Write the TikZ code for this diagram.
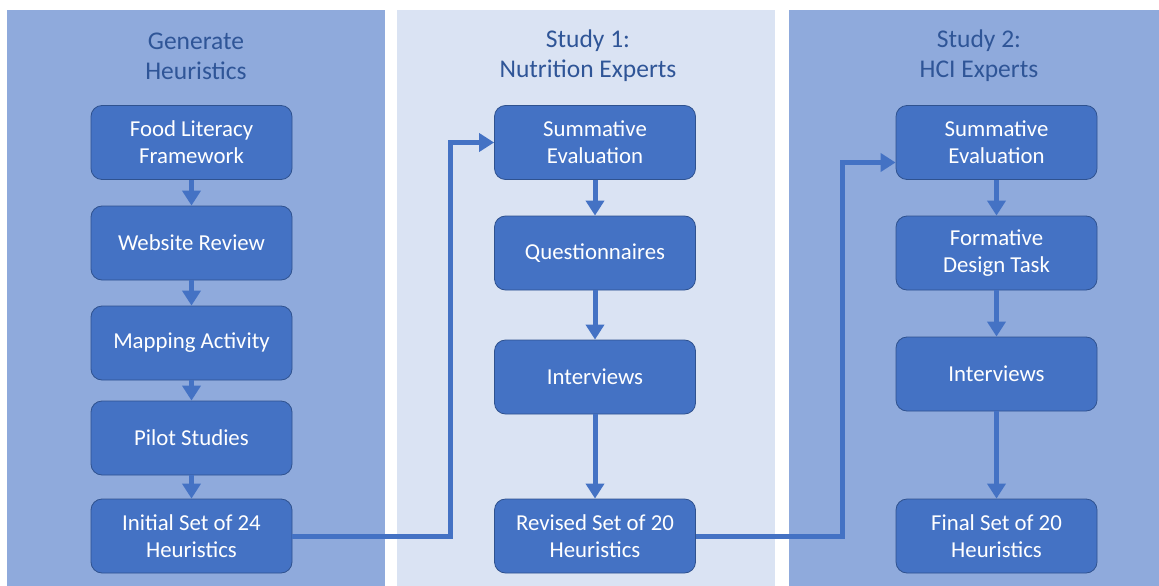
\documentclass[tikz,border=0pt]{standalone}
\usepackage{fontspec}
\setmainfont{Carlito}
\usetikzlibrary{arrows.meta,calc}
\definecolor{panelA}{HTML}{8FAADC}
\definecolor{panelB}{HTML}{DAE3F3}
\definecolor{boxfill}{HTML}{4472C4}
\definecolor{boxline}{HTML}{2F528F}
\definecolor{titlecol}{HTML}{2F5597}
\begin{document}
\begin{tikzpicture}[x=1pt,y=-1pt,
  panel/.style={draw=none,fill=#1},
  stepbox/.style={draw=boxline,fill=boxfill,line width=0.8pt,rounded corners=11pt,
    minimum width=201pt,minimum height=74pt,text=white,align=center,
    font=\fontsize{22.8}{27}\selectfont,inner sep=2pt},
  ttl/.style={text=titlecol,align=center,font=\fontsize{25.5}{30}\selectfont},
  conn/.style={draw=boxfill,line width=5pt,-{Triangle[length=15pt,width=18pt]}},
  elbow/.style={draw=boxfill,line width=5pt,-{Triangle[length=15pt,width=18pt]}}
]
\useasboundingbox (0,0) rectangle (1159,586);
\fill[white] (0,0) rectangle (1159,586);
\path[panel=panelA] (7,10) rectangle (385,586);
\path[panel=panelB] (397,10) rectangle (775,586);
\path[panel=panelA] (789,10) rectangle (1159,586);

\node[ttl] (t1) at (196,56) {Generate\\Heuristics};
\node[ttl] (t2) at (588,56) {Study 1:\\Nutrition Experts};
\node[ttl] (t3) at (979,56) {Study 2:\\HCI Experts};

\node[stepbox] (a1) at (191.5,142.5) {Food Literacy\\Framework};
\node[stepbox] (a2) at (191.5,243) {Website Review};
\node[stepbox] (a3) at (191.5,343) {Mapping Activity};
\node[stepbox] (a4) at (191.5,438) {Pilot Studies};
\node[stepbox] (a5) at (191.5,536) {Initial Set of 24\\Heuristics};

\node[stepbox] (b1) at (595,142.5) {Summative\\Evaluation};
\node[stepbox] (b2) at (595,253) {Questionnaires};
\node[stepbox] (b3) at (595,377) {Interviews};
\node[stepbox] (b4) at (595,536) {Revised Set of 20\\Heuristics};

\node[stepbox] (c1) at (996.5,142.5) {Summative\\Evaluation};
\node[stepbox] (c2) at (996.5,253) {Formative\\Design Task};
\node[stepbox] (c3) at (996.5,374) {Interviews};
\node[stepbox] (c4) at (996.5,536) {Final Set of 20\\Heuristics};

\draw[conn] (a1) -- (a2);
\draw[conn] (a2) -- (a3);
\draw[conn] (a3) -- (a4);
\draw[conn] (a4) -- (a5);
\draw[conn] (b1) -- (b2);
\draw[conn] (b2) -- (b3);
\draw[conn] (b3) -- (b4);
\draw[conn] (c1) -- (c2);
\draw[conn] (c2) -- (c3);
\draw[conn] (c3) -- (c4);

\coordinate (k1) at (450,300);
\coordinate (k2) at (842,300);
\draw[elbow] (a5.east) -| (k1) |- (b1.west);
\draw[elbow] (b4.east) -| (k2) |- ($(c1.west)+(0,20)$);
\end{tikzpicture}
\end{document}
